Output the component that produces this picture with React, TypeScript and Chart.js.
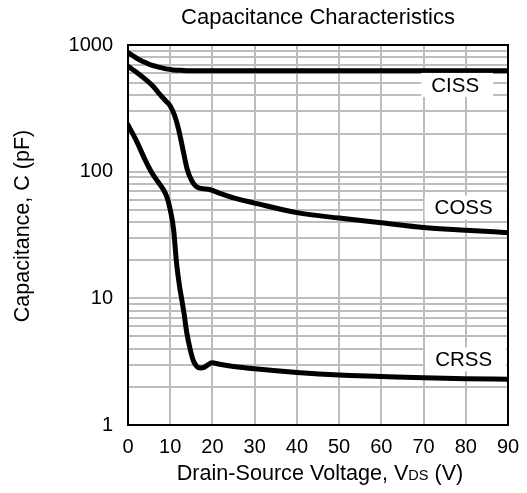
import React, { useEffect, useRef } from "react";
import { Chart, registerables } from "chart.js";

Chart.register(...registerables);

const TITLE = "Capacitance Characteristics";
const Y_TITLE = "Capacitance, C (pF)";
const X_TICKS = [0, 10, 20, 30, 40, 50, 60, 70, 80, 90];
const Y_MAJOR = [1, 10, 100, 1000];

const CISS_V = [0, 1, 2.5, 4, 5.2, 6.5, 7.5, 9, 10.7, 13, 16, 20, 30, 50, 70, 90];
const CISS_C = [870, 830, 770, 730, 700, 680, 665, 648, 636, 630, 627, 626, 625, 625, 625, 625];

const COSS_V = [0, 2, 4, 6, 7.6, 9, 10, 11, 12, 13, 14, 15, 16, 17, 19.5, 22, 25, 30, 40, 50, 60, 70, 80, 90];
const COSS_C = [680, 610, 540, 470, 405, 360, 330, 280, 215, 150, 105, 86, 77, 74, 72, 67, 62, 56.5, 47.5, 43, 39.5, 36.2, 34.5, 33];

const CRSS_V = [0, 2, 4, 5.5, 7, 8.4, 9.3, 10, 10.8, 11.5, 12.2, 12.8, 13.3, 13.9, 14.7, 15.5, 16.3, 17.1, 18, 19, 19.8, 22, 25, 30, 40, 50, 60, 70, 80, 90];
const CRSS_C = [234, 175, 125, 100, 84, 72, 62, 50, 35, 19, 12.5, 9.5, 7.5, 5.4, 4, 3.2, 2.9, 2.82, 2.85, 3.0, 3.1, 3.0, 2.9, 2.78, 2.6, 2.48, 2.42, 2.36, 2.32, 2.3];

const LABELS = ["CISS", "COSS", "CRSS"];
const LABEL_V = [77.5, 79.5, 79.5];
const LABEL_C = [484, 52, 3.3];

const FONT = "'Liberation Sans', Arial, sans-serif";

function pts(v: number[], c: number[]) {
  return v.map((x, i) => ({ x, y: c[i] }));
}

export default function App() {
  const ref = useRef<HTMLCanvasElement>(null);
  useEffect(() => {
    if (!ref.current) return;
    const overlay = {
      id: "overlay",
      afterDatasetsDraw(chart: any) {
        const ctx = chart.ctx;
        const xs = chart.scales.x;
        const ys = chart.scales.y;
        const ca = chart.chartArea;
        ctx.save();
        ctx.font = `20.5px ${FONT}`;
        ctx.textBaseline = "middle";
        ctx.textAlign = "center";
        LABELS.forEach((t, i) => {
          const cx = xs.getPixelForValue(LABEL_V[i]);
          const cy = ys.getPixelForValue(LABEL_C[i]);
          const w = ctx.measureText(t).width;
          ctx.fillStyle = "#ffffff";
          ctx.fillRect(cx - w / 2 - 10, cy - 12, w + 24, 24);
          ctx.fillStyle = "#000000";
          ctx.fillText(t, cx, cy + 1);
        });
        ctx.strokeStyle = "#000000";
        ctx.lineWidth = 2;
        ctx.strokeRect(ca.left, ca.top, ca.right - ca.left, ca.bottom - ca.top);
        ctx.restore();
      },
      afterDraw(chart: any) {
        const ctx = chart.ctx;
        const ca = chart.chartArea;
        ctx.save();
        ctx.fillStyle = "#000000";
        ctx.font = `22px ${FONT}`;
        ctx.textAlign = "center";
        ctx.textBaseline = "alphabetic";
        ctx.fillText(TITLE, (ca.left + ca.right) / 2, 16);
        const p1 = "Drain-Source Voltage, V";
        const sub = "DS";
        const p2 = " (V)";
        ctx.font = `21.6px ${FONT}`;
        const w1 = ctx.measureText(p1).width;
        const w3 = ctx.measureText(p2).width;
        ctx.font = `14.5px ${FONT}`;
        const w2 = ctx.measureText(sub).width;
        const total = w1 + w2 + w3;
        const x0 = (ca.left + ca.right) / 2 - total / 2 + 2;
        const base = 472;
        ctx.textAlign = "left";
        ctx.font = `21.6px ${FONT}`;
        ctx.fillText(p1, x0, base);
        ctx.font = `14.5px ${FONT}`;
        ctx.fillText(sub, x0 + w1, base);
        ctx.font = `21.6px ${FONT}`;
        ctx.fillText(p2, x0 + w1 + w2, base);
        ctx.translate(15, 218);
        ctx.rotate(-Math.PI / 2);
        ctx.textAlign = "center";
        ctx.textBaseline = "middle";
        ctx.font = `21.5px ${FONT}`;
        ctx.fillText(Y_TITLE, 0, 0);
        ctx.restore();
      },
    };
    const ds = (label: string, v: number[], c: number[]) => ({
      label,
      data: pts(v, c),
      borderColor: "#000000",
      borderWidth: 5,
      pointRadius: 0,
      fill: false,
      cubicInterpolationMode: "monotone" as const,
      borderCapStyle: "round" as const,
      borderJoinStyle: "round" as const,
    });
    const chart = new Chart(ref.current, {
      type: "line",
      data: {
        datasets: [ds("CISS", CISS_V, CISS_C), ds("COSS", COSS_V, COSS_C), ds("CRSS", CRSS_V, CRSS_C)],
      },
      options: {
        animation: false,
        responsive: false,
        maintainAspectRatio: false,
        layout: { padding: { top: 37, right: 11, left: 0, bottom: 0 } },
        plugins: { legend: { display: false }, title: { display: false }, tooltip: { enabled: false } },
        scales: {
          x: {
            type: "linear",
            min: 0,
            max: 90,
            afterBuildTicks: (s: any) => {
              s.ticks = X_TICKS.map((v) => ({ value: v }));
            },
            afterFit: (s: any) => {
              s.height = 60;
              s.paddingLeft = 0;
              s.paddingRight = 0;
            },
            grid: { color: "#bdbdbd", lineWidth: 2, drawTicks: false },
            border: { display: false },
            ticks: { color: "#000000", font: { family: FONT, size: 20 }, padding: 10, maxRotation: 0, autoSkip: false },
          },
          y: {
            type: "logarithmic",
            min: 1,
            max: 1000,
            afterBuildTicks: (s: any) => {
              const t: any[] = [];
              for (let d = 1; d < 1000; d *= 10) {
                for (let k = 1; k < 10; k++) t.push({ value: k * d, major: k === 1 });
              }
              t.push({ value: 1000, major: true });
              s.ticks = t;
            },
            afterFit: (s: any) => {
              s.width = 120;
              s.paddingTop = 0;
              s.paddingBottom = 0;
            },
            grid: { color: "#bdbdbd", lineWidth: 2, drawTicks: false },
            border: { display: false },
            ticks: {
              color: "#000000",
              font: { family: FONT, size: 20 },
              padding: 15,
              autoSkip: false,
              callback: (v: any) => (Y_MAJOR.includes(Number(v)) ? String(v) : ""),
            },
          },
        },
      },
      plugins: [overlay],
    });
    return () => chart.destroy();
  }, []);
  return (
    <div style={{ width: 511, height: 477 }}>
      <canvas ref={ref} width={511} height={477} style={{ width: 511, height: 477, display: "block" }} />
    </div>
  );
}
